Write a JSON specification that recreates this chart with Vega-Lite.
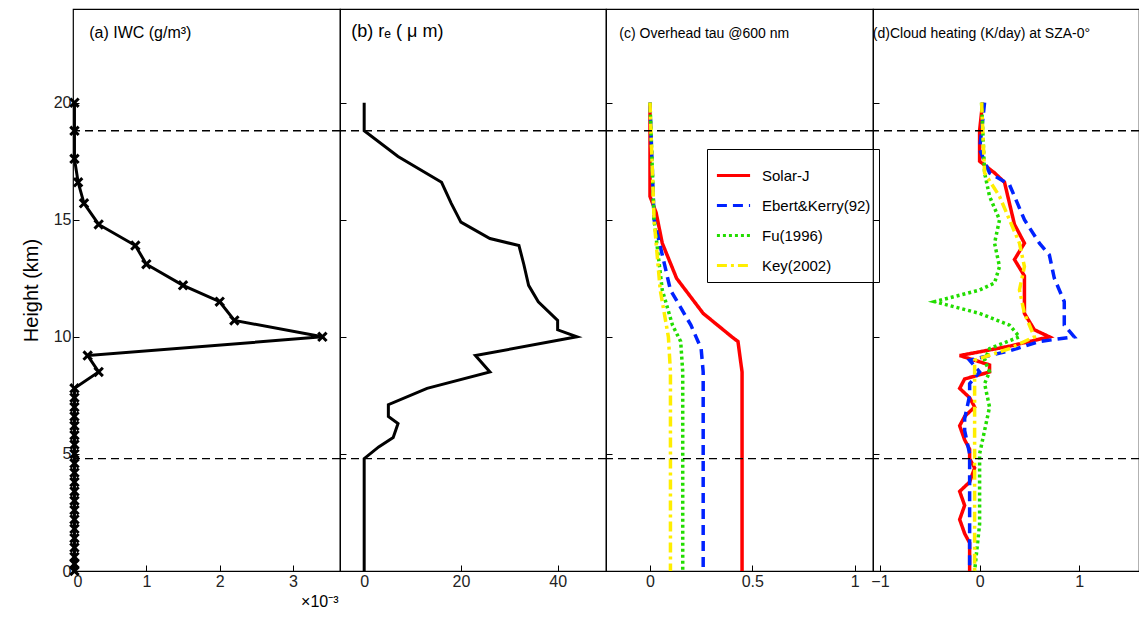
{
  "$schema": "https://vega.github.io/schema/vega-lite/v6.json",
  "padding": {"left": 20, "top": 8, "right": 0, "bottom": 5},
  "spacing": 0,
  "bounds": "flush",
  "datasets": {
    "iwc": [
      {"h": 20, "v": 0.02}, {"h": 18.8, "v": 0.02}, {"h": 17.6, "v": 0.02}, {"h": 16.6, "v": 0.07},
      {"h": 15.7, "v": 0.15}, {"h": 14.8, "v": 0.35}, {"h": 13.9, "v": 0.85}, {"h": 13.1, "v": 1.0},
      {"h": 12.2, "v": 1.5}, {"h": 11.5, "v": 2.0}, {"h": 10.7, "v": 2.2}, {"h": 10.0, "v": 3.4},
      {"h": 9.2, "v": 0.2}, {"h": 8.5, "v": 0.35}, {"h": 7.8, "v": 0.02}, {"h": 7.4, "v": 0.02},
      {"h": 7.0, "v": 0.02}, {"h": 6.6, "v": 0.02}, {"h": 6.2, "v": 0.02}, {"h": 5.8, "v": 0.02},
      {"h": 5.4, "v": 0.02}, {"h": 5.0, "v": 0.02}, {"h": 4.6, "v": 0.02}, {"h": 4.2, "v": 0.02},
      {"h": 3.8, "v": 0.02}, {"h": 3.4, "v": 0.02}, {"h": 3.0, "v": 0.02}, {"h": 2.6, "v": 0.02},
      {"h": 2.2, "v": 0.02}, {"h": 1.8, "v": 0.02}, {"h": 1.4, "v": 0.02}, {"h": 1.0, "v": 0.02},
      {"h": 0.6, "v": 0.02}, {"h": 0.3, "v": 0.02}, {"h": 0.0, "v": 0.02}
    ],
    "re": [
      {"h": 20, "v": 0}, {"h": 18.8, "v": 0}, {"h": 17.7, "v": 7}, {"h": 16.6, "v": 16},
      {"h": 15.7, "v": 18}, {"h": 14.9, "v": 20}, {"h": 14.2, "v": 26}, {"h": 13.9, "v": 32},
      {"h": 13.1, "v": 33}, {"h": 12.2, "v": 34}, {"h": 11.5, "v": 36}, {"h": 10.7, "v": 40},
      {"h": 10.3, "v": 40}, {"h": 10.0, "v": 44}, {"h": 9.2, "v": 23}, {"h": 8.5, "v": 26},
      {"h": 7.8, "v": 13}, {"h": 7.1, "v": 5}, {"h": 6.6, "v": 5}, {"h": 6.3, "v": 7},
      {"h": 5.7, "v": 6}, {"h": 5.3, "v": 3}, {"h": 4.8, "v": 0}, {"h": 0, "v": 0}
    ],
    "tau": [
      {"m": "Solar-J", "h": 20, "v": 0}, {"m": "Solar-J", "h": 16, "v": 0}, {"m": "Solar-J", "h": 15.3, "v": 0.03},
      {"m": "Solar-J", "h": 14, "v": 0.06}, {"m": "Solar-J", "h": 12.5, "v": 0.13}, {"m": "Solar-J", "h": 11, "v": 0.26},
      {"m": "Solar-J", "h": 10, "v": 0.4}, {"m": "Solar-J", "h": 9.8, "v": 0.43}, {"m": "Solar-J", "h": 8.5, "v": 0.45},
      {"m": "Solar-J", "h": 0, "v": 0.45},
      {"m": "Ebert&Kerry(92)", "h": 20, "v": 0}, {"m": "Ebert&Kerry(92)", "h": 15, "v": 0.02}, {"m": "Ebert&Kerry(92)", "h": 12, "v": 0.1},
      {"m": "Ebert&Kerry(92)", "h": 10.5, "v": 0.2}, {"m": "Ebert&Kerry(92)", "h": 9.5, "v": 0.25}, {"m": "Ebert&Kerry(92)", "h": 8.5, "v": 0.26},
      {"m": "Ebert&Kerry(92)", "h": 0, "v": 0.26},
      {"m": "Fu(1996)", "h": 20, "v": 0}, {"m": "Fu(1996)", "h": 15, "v": 0.02}, {"m": "Fu(1996)", "h": 12, "v": 0.06},
      {"m": "Fu(1996)", "h": 10.5, "v": 0.11}, {"m": "Fu(1996)", "h": 9.8, "v": 0.15}, {"m": "Fu(1996)", "h": 8.5, "v": 0.16},
      {"m": "Fu(1996)", "h": 0, "v": 0.16},
      {"m": "Key(2002)", "h": 20, "v": 0}, {"m": "Key(2002)", "h": 15, "v": 0.02}, {"m": "Key(2002)", "h": 12, "v": 0.05},
      {"m": "Key(2002)", "h": 10, "v": 0.09}, {"m": "Key(2002)", "h": 8.5, "v": 0.1}, {"m": "Key(2002)", "h": 0, "v": 0.1}
    ],
    "heat": [
      {"m": "Solar-J", "h": 20, "v": 0.03}, {"m": "Solar-J", "h": 18.8, "v": 0}, {"m": "Solar-J", "h": 17.5, "v": 0},
      {"m": "Solar-J", "h": 17, "v": 0.15}, {"m": "Solar-J", "h": 16.6, "v": 0.25}, {"m": "Solar-J", "h": 15.7, "v": 0.3},
      {"m": "Solar-J", "h": 14.8, "v": 0.35}, {"m": "Solar-J", "h": 14, "v": 0.45}, {"m": "Solar-J", "h": 13.3, "v": 0.35},
      {"m": "Solar-J", "h": 12.6, "v": 0.45}, {"m": "Solar-J", "h": 11.8, "v": 0.45}, {"m": "Solar-J", "h": 11, "v": 0.45},
      {"m": "Solar-J", "h": 10.3, "v": 0.55}, {"m": "Solar-J", "h": 10, "v": 0.7}, {"m": "Solar-J", "h": 9.6, "v": 0.3},
      {"m": "Solar-J", "h": 9.2, "v": -0.2}, {"m": "Solar-J", "h": 8.8, "v": 0.1}, {"m": "Solar-J", "h": 8.5, "v": 0.1},
      {"m": "Solar-J", "h": 8.2, "v": -0.15}, {"m": "Solar-J", "h": 7.8, "v": -0.2}, {"m": "Solar-J", "h": 7.4, "v": -0.1},
      {"m": "Solar-J", "h": 7.0, "v": -0.05}, {"m": "Solar-J", "h": 6.6, "v": -0.15}, {"m": "Solar-J", "h": 6.2, "v": -0.2},
      {"m": "Solar-J", "h": 5.6, "v": -0.15}, {"m": "Solar-J", "h": 5.2, "v": -0.1}, {"m": "Solar-J", "h": 4.8, "v": -0.1},
      {"m": "Solar-J", "h": 4.4, "v": -0.05}, {"m": "Solar-J", "h": 3.8, "v": -0.1}, {"m": "Solar-J", "h": 3.4, "v": -0.2},
      {"m": "Solar-J", "h": 2.8, "v": -0.15}, {"m": "Solar-J", "h": 2.2, "v": -0.2}, {"m": "Solar-J", "h": 1.6, "v": -0.15},
      {"m": "Solar-J", "h": 1.2, "v": -0.1}, {"m": "Solar-J", "h": 0.4, "v": -0.1}, {"m": "Solar-J", "h": 0, "v": -0.1},
      {"m": "Ebert&Kerry(92)", "h": 20, "v": 0.05}, {"m": "Ebert&Kerry(92)", "h": 18, "v": 0}, {"m": "Ebert&Kerry(92)", "h": 17, "v": 0.1},
      {"m": "Ebert&Kerry(92)", "h": 16.5, "v": 0.3}, {"m": "Ebert&Kerry(92)", "h": 15, "v": 0.45}, {"m": "Ebert&Kerry(92)", "h": 14, "v": 0.6},
      {"m": "Ebert&Kerry(92)", "h": 13.5, "v": 0.7}, {"m": "Ebert&Kerry(92)", "h": 12.5, "v": 0.75}, {"m": "Ebert&Kerry(92)", "h": 11.5, "v": 0.85},
      {"m": "Ebert&Kerry(92)", "h": 10.5, "v": 0.85}, {"m": "Ebert&Kerry(92)", "h": 10, "v": 0.95}, {"m": "Ebert&Kerry(92)", "h": 9.8, "v": 0.6},
      {"m": "Ebert&Kerry(92)", "h": 9.4, "v": 0.3}, {"m": "Ebert&Kerry(92)", "h": 9, "v": -0.1}, {"m": "Ebert&Kerry(92)", "h": 8.5, "v": 0},
      {"m": "Ebert&Kerry(92)", "h": 8, "v": -0.1}, {"m": "Ebert&Kerry(92)", "h": 7.5, "v": -0.1}, {"m": "Ebert&Kerry(92)", "h": 6.5, "v": -0.15},
      {"m": "Ebert&Kerry(92)", "h": 6, "v": -0.15}, {"m": "Ebert&Kerry(92)", "h": 5, "v": -0.1}, {"m": "Ebert&Kerry(92)", "h": 3, "v": -0.1},
      {"m": "Ebert&Kerry(92)", "h": 1, "v": -0.1}, {"m": "Ebert&Kerry(92)", "h": 0, "v": -0.1},
      {"m": "Fu(1996)", "h": 20, "v": 0.02}, {"m": "Fu(1996)", "h": 17, "v": 0.05}, {"m": "Fu(1996)", "h": 16, "v": 0.1},
      {"m": "Fu(1996)", "h": 15, "v": 0.2}, {"m": "Fu(1996)", "h": 14, "v": 0.15}, {"m": "Fu(1996)", "h": 13, "v": 0.2},
      {"m": "Fu(1996)", "h": 12.3, "v": 0.15}, {"m": "Fu(1996)", "h": 12, "v": 0}, {"m": "Fu(1996)", "h": 11.5, "v": -0.45},
      {"m": "Fu(1996)", "h": 11, "v": 0}, {"m": "Fu(1996)", "h": 10.5, "v": 0.3}, {"m": "Fu(1996)", "h": 10, "v": 0.4},
      {"m": "Fu(1996)", "h": 9.5, "v": 0.1}, {"m": "Fu(1996)", "h": 9, "v": 0.05}, {"m": "Fu(1996)", "h": 8.5, "v": 0.1},
      {"m": "Fu(1996)", "h": 8, "v": 0.05}, {"m": "Fu(1996)", "h": 7, "v": 0.1}, {"m": "Fu(1996)", "h": 6, "v": 0.05},
      {"m": "Fu(1996)", "h": 5, "v": 0}, {"m": "Fu(1996)", "h": 2, "v": 0}, {"m": "Fu(1996)", "h": 0, "v": -0.05},
      {"m": "Key(2002)", "h": 20, "v": 0.02}, {"m": "Key(2002)", "h": 17, "v": 0.05}, {"m": "Key(2002)", "h": 16, "v": 0.2},
      {"m": "Key(2002)", "h": 15, "v": 0.3}, {"m": "Key(2002)", "h": 14, "v": 0.4}, {"m": "Key(2002)", "h": 13, "v": 0.45},
      {"m": "Key(2002)", "h": 12, "v": 0.4}, {"m": "Key(2002)", "h": 11, "v": 0.45}, {"m": "Key(2002)", "h": 10, "v": 0.55},
      {"m": "Key(2002)", "h": 9.5, "v": 0.3}, {"m": "Key(2002)", "h": 9, "v": -0.05}, {"m": "Key(2002)", "h": 6, "v": -0.05},
      {"m": "Key(2002)", "h": 3, "v": -0.05}, {"m": "Key(2002)", "h": 0, "v": -0.05}
    ],
    "dash": [{"h": 18.8}, {"h": 4.8}]
  },
  "hconcat": [
    {
      "width": 267, "height": 562,
      "title": {"text": "(a) IWC (g/m³)", "anchor": "start", "dy": 36, "dx": 68, "fontSize": 16, "fontWeight": "normal"},
      "layer": [
        {"data": {"name": "iwc"}, "mark": {"type": "line", "color": "black", "strokeWidth": 3},
         "encoding": {"x": {"field": "v", "type": "quantitative", "scale": {"domain": [0, 3.64], "nice": false},
            "axis": {"values": [0, 1, 2, 3], "format": "~g", "title": "×10⁻³", "titleAnchor": "end", "titleAlign": "right", "titleX": 265, "titleFontWeight": "normal", "titleFontSize": 16}},
          "y": {"field": "h", "type": "quantitative", "scale": {"domain": [0, 24], "nice": false},
            "axis": {"values": [0, 5, 10, 15, 20], "title": "Height (km)", "titleFontSize": 20, "titleFontWeight": "normal", "titlePadding": 12}},
          "order": {"field": "h", "sort": "descending"}}},
        {"data": {"name": "iwc"}, "mark": {"type": "point", "shape": "M-1,-1L1,1M-1,1L1,-1", "color": "black", "filled": false, "strokeWidth": 3, "size": 70, "opacity": 1},
         "encoding": {"x": {"field": "v", "type": "quantitative"}, "y": {"field": "h", "type": "quantitative"}}},
        {"data": {"name": "dash"}, "mark": {"type": "rule", "color": "black", "strokeDash": [8, 5], "strokeWidth": 1.3},
         "encoding": {"y": {"field": "h", "type": "quantitative"}}}
      ]
    },
    {
      "width": 266, "height": 562,
      "title": {"text": "(b) rₑ  ( μ m)", "anchor": "start", "dy": 36, "dx": 12, "fontSize": 18, "fontWeight": "normal"},
      "layer": [
        {"data": {"name": "re"}, "mark": {"type": "line", "color": "black", "strokeWidth": 3},
         "encoding": {"x": {"field": "v", "type": "quantitative", "scale": {"domain": [-5, 50], "nice": false}, "axis": {"values": [0, 20, 40], "title": null}},
          "y": {"field": "h", "type": "quantitative", "scale": {"domain": [0, 24], "nice": false}, "axis": {"values": [0, 5, 10, 15, 20], "labels": false, "title": null, "tickSize": -6}},
          "order": {"field": "h", "sort": "descending"}}},
        {"data": {"name": "dash"}, "mark": {"type": "rule", "color": "black", "strokeDash": [8, 5], "strokeWidth": 1.3},
         "encoding": {"y": {"field": "h", "type": "quantitative"}}}
      ]
    },
    {
      "width": 267, "height": 562,
      "title": {"text": "(c) Overhead tau @600 nm", "anchor": "start", "dy": 36, "dx": 14, "fontSize": 14, "fontWeight": "normal"},
      "layer": [
        {"data": {"name": "tau"}, "mark": {"type": "line", "strokeWidth": 3.5},
         "encoding": {"x": {"field": "v", "type": "quantitative", "scale": {"domain": [-0.215, 1.09], "nice": false}, "axis": {"values": [0, 0.5, 1], "format": "~g", "title": null}},
          "y": {"field": "h", "type": "quantitative", "scale": {"domain": [0, 24], "nice": false}, "axis": {"values": [0, 5, 10, 15, 20], "labels": false, "title": null, "tickSize": -6}},
          "color": {"field": "m", "type": "nominal", "scale": {"domain": ["Solar-J", "Ebert&Kerry(92)", "Fu(1996)", "Key(2002)"], "range": ["#ff0000", "#0022ff", "#22dd00", "#ffee00"]},
            "legend": {"orient": "none", "legendX": 101, "legendY": 140, "title": null, "symbolType": "stroke", "symbolSize": 1100, "symbolStrokeWidth": 3, "labelFontSize": 15, "rowPadding": 3, "padding": 8, "labelOffset": 10, "strokeColor": "black", "fillColor": "white"}},
          "strokeDash": {"field": "m", "type": "nominal", "scale": {"domain": ["Solar-J", "Ebert&Kerry(92)", "Fu(1996)", "Key(2002)"], "range": [[1, 0], [10, 6], [3, 3], [10, 4, 3, 4]]}},
          "order": {"field": "h", "sort": "descending"}}},
        {"data": {"name": "dash"}, "mark": {"type": "rule", "color": "black", "strokeDash": [8, 5], "strokeWidth": 1.3},
         "encoding": {"y": {"field": "h", "type": "quantitative"}}}
      ]
    },
    {
      "width": 266, "height": 562,
      "title": {"text": "(d)Cloud heating (K/day) at SZA-0°", "anchor": "start", "dy": 36, "dx": 2, "fontSize": 14, "fontWeight": "normal"},
      "layer": [
        {"data": {"name": "heat"}, "mark": {"type": "line", "strokeWidth": 3.5},
         "encoding": {"x": {"field": "v", "type": "quantitative", "scale": {"domain": [-1.07, 1.6], "nice": false}, "axis": {"values": [-1, 0, 1], "format": "~g", "title": null}},
          "y": {"field": "h", "type": "quantitative", "scale": {"domain": [0, 24], "nice": false}, "axis": {"values": [0, 5, 10, 15, 20], "labels": false, "title": null, "tickSize": -6}},
          "color": {"field": "m", "type": "nominal", "scale": {"domain": ["Solar-J", "Ebert&Kerry(92)", "Fu(1996)", "Key(2002)"], "range": ["#ff0000", "#0022ff", "#22dd00", "#ffee00"]}, "legend": null},
          "strokeDash": {"field": "m", "type": "nominal", "scale": {"domain": ["Solar-J", "Ebert&Kerry(92)", "Fu(1996)", "Key(2002)"], "range": [[1, 0], [10, 6], [3, 3], [10, 4, 3, 4]]}, "legend": null},
          "order": {"field": "h", "sort": "descending"}}},
        {"data": {"name": "dash"}, "mark": {"type": "rule", "color": "black", "strokeDash": [8, 5], "strokeWidth": 1.3},
         "encoding": {"y": {"field": "h", "type": "quantitative"}}}
      ]
    }
  ],
  "resolve": {"scale": {"x": "independent", "color": "independent", "strokeDash": "independent"}, "legend": {"color": "independent", "strokeDash": "independent"}},
  "config": {
    "font": "Liberation Sans",
    "view": {"stroke": "black", "strokeWidth": 1.2},
    "axis": {"grid": false, "domain": false, "tickColor": "black", "tickSize": -6, "labelFontSize": 16, "labelColor": "#222", "labelPadding": 8},
    "title": {"color": "black"}
  }
}
